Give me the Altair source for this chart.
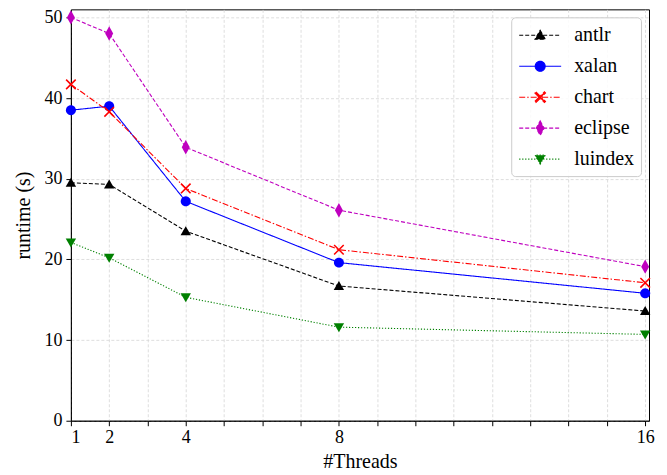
import math
import altair as alt
import pandas as pd

threads = [1, 2, 4, 8, 16]
series = ["antlr", "xalan", "chart", "eclipse", "luindex"]
antlr = [29.5, 29.3, 23.5, 16.7, 13.6]
xalan = [38.5, 39.0, 27.2, 19.6, 15.8]
chart_v = [41.7, 38.3, 28.8, 21.2, 17.1]
eclipse = [50.0, 48.0, 33.9, 26.1, 19.1]
luindex = [22.1, 20.2, 15.3, 11.6, 10.7]
values = {"antlr": antlr, "xalan": xalan, "chart": chart_v, "eclipse": eclipse, "luindex": luindex}

colors = ["#000000", "#0000ff", "#ff0000", "#bf00bf", "#008000"]
dashes = [[4, 2], [1, 0], [6, 2, 1.5, 2], [4, 2], [1.2, 1.8]]

rows = []
for s in series:
    for t, v in zip(threads, values[s]):
        rows.append({"threads": t, "runtime": v, "series": s})
df = pd.DataFrame(rows)


def fmt(x):
    return f"{x:.3f}".rstrip("0").rstrip(".")


def poly(pts, dx=0.0):
    return "M" + "L".join(f"{fmt(x + dx)},{fmt(y)}" for x, y in pts) + "Z"


def marker(kind, dx=0.0):
    if kind == "tri_up":
        return poly([(0, -0.5), (0.52, 0.4), (-0.52, 0.4)], dx)
    if kind == "tri_down":
        return poly([(0, 0.5), (0.52, -0.4), (-0.52, -0.4)], dx)
    if kind == "circle":
        return poly([(0.5 * math.cos(2 * math.pi * k / 28), 0.5 * math.sin(2 * math.pi * k / 28)) for k in range(28)], dx)
    if kind == "x":
        a = 0.48
        h = 0.055
        r1 = [(-a + h, -a - h), (a + h, a - h), (a - h, a + h), (-a - h, -a + h)]
        r2 = [(-a - h, a - h), (a - h, -a - h), (a + h, -a + h), (-a + h, a + h)]
        return poly(r1, dx) + poly(r2, dx)
    if kind == "diamond":
        return poly([(0, -0.72), (0.4, 0), (0, 0.72), (-0.4, 0)], dx)


kinds = ["tri_up", "circle", "x", "diamond", "tri_down"]
point_shapes = [marker(k) for k in kinds]
# legend symbols: a short line segment with the marker in its middle
legend_shapes = ["M-1,0L3.2,0" + marker(k, 1.1) for k in kinds]

FONT = "'Liberation Serif', 'DejaVu Serif', serif"

xscale = alt.Scale(domain=[1, 16.1], nice=False, zero=False)
yscale = alt.Scale(domain=[0, 51], nice=False)

xenc = alt.X(
    "threads:Q",
    scale=xscale,
    axis=alt.Axis(
        values=list(range(1, 17)),
        labelExpr="indexof([1,2,4,8,16], datum.value) >= 0 ? datum.label : ''",
        title="#Threads",
        tickSize=5,
        labelPadding=3,
        titlePadding=5,
    ),
)
yenc = alt.Y(
    "runtime:Q",
    scale=yscale,
    axis=alt.Axis(values=[0, 10, 20, 30, 40, 50], title="runtime (s)", tickSize=5, labelPadding=4, titlePadding=10),
)

base = alt.Chart(df)

layers = []
for s, col, dsh, shp in zip(series, colors, dashes, point_shapes):
    sub = base.transform_filter(alt.datum.series == s)
    layers.append(sub.mark_line(strokeWidth=1.1, color=col, strokeDash=dsh).encode(x=xenc, y=yenc))
    layers.append(
        sub.mark_point(filled=True, size=400, opacity=1, shape=shp, color=col).encode(x=xenc, y=yenc)
    )

leg = alt.Legend(
    title=None,
    orient="top-right",
    offset=8,
    symbolSize=400,
    symbolStrokeWidth=1.1,
    labelOffset=34,
    labelFont=FONT,
    labelFontSize=20,
    labelColor="black",
    rowPadding=10,
    padding=7,
    strokeColor="#cccccc",
    fillColor="rgba(255,255,255,0.85)",
    cornerRadius=4,
)

cscale = alt.Scale(domain=series, range=colors)
legend_layer = (
    base.transform_filter("datum.runtime < 0")
    .mark_point(size=400, strokeWidth=1.1, opacity=1)
    .encode(
        x=xenc,
        y=yenc,
        fill=alt.Fill("series:N", scale=cscale, legend=leg),
        stroke=alt.Stroke("series:N", scale=cscale, legend=leg),
        shape=alt.Shape("series:N", scale=alt.Scale(domain=series, range=legend_shapes), legend=leg),
        strokeDash=alt.StrokeDash("series:N", scale=alt.Scale(domain=series, range=dashes), legend=leg),
    )
)
layers.append(legend_layer)

chart = (
    alt.layer(*layers)
    .properties(
        width=579,
        height=412,
        autosize=alt.AutoSizeParams(type="none"),
        padding={"left": 63, "top": 1, "right": 10, "bottom": 52},
    )
    .configure_view(stroke="black", strokeWidth=1)
    .configure_axis(
        labelFont=FONT,
        labelFontSize=18,
        labelColor="black",
        titleFont=FONT,
        titleFontSize=20,
        titleFontWeight="normal",
        titleColor="black",
        domainColor="black",
        tickColor="black",
        gridColor="#d6d6d6",
        gridDash=[3, 2],
        gridWidth=0.8,
    )
)

chart.save("out.html", embed_options={"renderer": "svg", "actions": False})
